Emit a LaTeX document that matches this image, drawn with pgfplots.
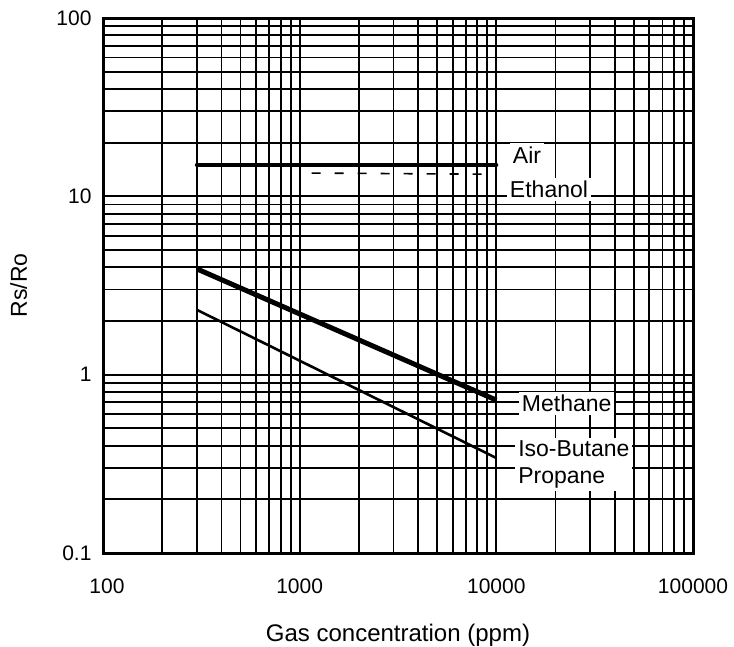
\documentclass[border=0pt]{standalone}
\usepackage{fontspec}
\setmainfont{Liberation Sans}
\usepackage{pgfplots}
\pgfplotsset{compat=1.18}
\begin{document}
\begin{tikzpicture}
\useasboundingbox (-103bp,-94bp) rectangle (631bp,553bp);
\begin{axis}[
  at={(0,0)}, anchor=south west,
  scale only axis, width=590bp, height=535bp,
  xmode=log, ymode=log,
  xmin=100, xmax=100000, ymin=0.1, ymax=100,
  axis line style={line width=3bp},
  grid=both,
  major grid style={line width=2.2bp, black},
  minor grid style={line width=1.8bp, black},
  tick style={draw=none},
  xtick={100,1000,10000,100000},
  xticklabels={{\hspace*{8bp}100},1000,10000,100000},
  minor xtick={200,300,400,500,600,700,800,900,2000,3000,4000,5000,6000,7000,8000,9000,20000,30000,40000,50000,60000,70000,80000,90000},
  ytick={0.1,1,10,100},
  yticklabels={0.1,1,10,100},
  minor ytick={0.2,0.3,0.4,0.5,0.6,0.7,0.8,0.9,2,3,4,5,6,7,8,9,20,30,40,50,60,70,80,90},
  xticklabel style={font=\fontsize{21bp}{24bp}\selectfont, anchor=center, yshift=-33bp},
  yticklabel style={font=\fontsize{21bp}{24bp}\selectfont, anchor=east, xshift=-8bp},
  xlabel={Gas concentration (ppm)},
  ylabel={Rs/Ro},
  xlabel style={font=\fontsize{24bp}{28bp}\selectfont, at={(axis description cs:0.5,-0.153)}, anchor=center},
  ylabel style={font=\fontsize{23bp}{28bp}\selectfont, at={(axis description cs:-0.143,0.5)}, anchor=center},
]
\addplot[line width=4bp, line cap=round, mark=none] coordinates {(300,15) (10000,15)};
\addplot[line width=1.6bp, dash pattern=on 9bp off 14bp, mark=none] coordinates {(1150,13.5) (10000,13.3)};
\addplot[line width=5bp, mark=none] coordinates {(300,3.92) (10000,0.72)};
\addplot[line width=2.6bp, mark=none] coordinates {(300,2.31) (10000,0.341)};

\node[anchor=west, fill=white, inner sep=3bp, font=\fontsize{23bp}{27bp}\selectfont] at (axis cs:11700,17.1) {Air};
\node[anchor=west, fill=white, inner sep=3bp, font=\fontsize{23bp}{27bp}\selectfont] at (axis cs:11300,10.9) {Ethanol};
\node[anchor=west, fill=white, inner sep=3bp, font=\fontsize{23bp}{27bp}\selectfont] at (axis cs:13000,0.693) {Methane};
\node[anchor=west, fill=white, inner sep=3bp, align=left, font=\fontsize{23bp}{27bp}\selectfont] at (axis cs:12450,0.313) {Iso-Butane\\Propane};
\end{axis}
\end{tikzpicture}
\end{document}
